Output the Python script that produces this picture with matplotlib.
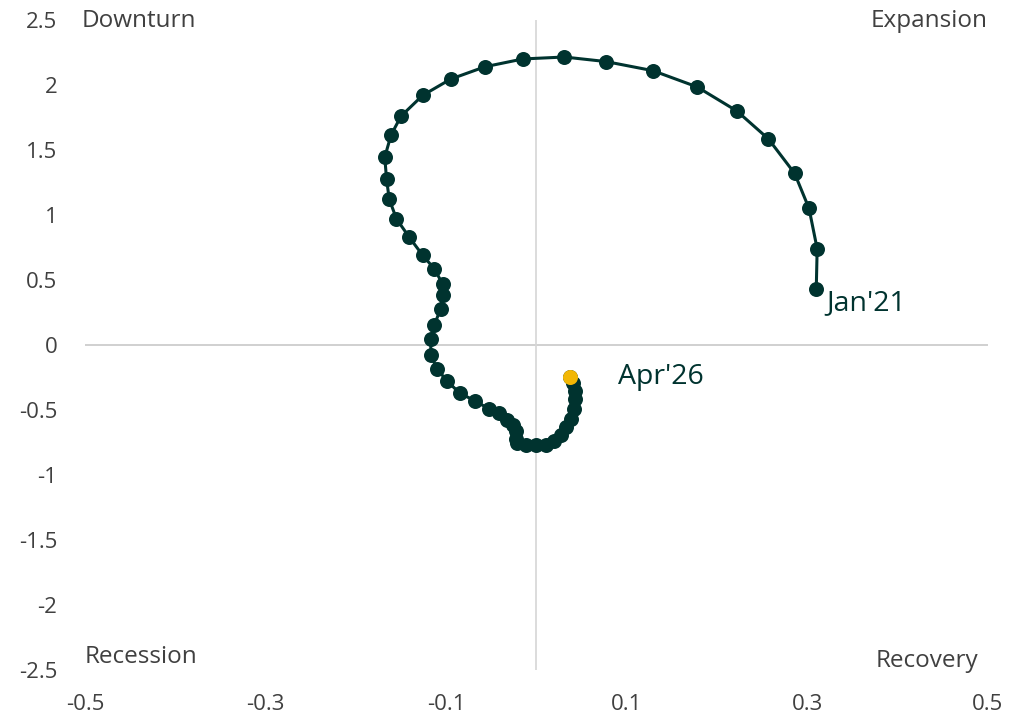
import matplotlib
matplotlib.use('Agg')
import matplotlib.pyplot as plt

plt.rcParams['font.family'] = ['Open Sans', 'DejaVu Sans']

# growth momentum (x) vs level (y), Jan'21 -> Apr'26
x_vals = [0.310, 0.311, 0.302, 0.286, 0.257, 0.222, 0.178, 0.129, 0.077, 0.031,
          -0.015, -0.057, -0.095, -0.126, -0.150, -0.161, -0.168, -0.166, -0.163, -0.155,
          -0.141, -0.126, -0.113, -0.104, -0.104, -0.106, -0.113, -0.117, -0.117, -0.110,
          -0.099, -0.085, -0.068, -0.053, -0.041, -0.033, -0.026, -0.023, -0.023, -0.021,
          -0.012, 0.000, 0.011, 0.020, 0.027, 0.033, 0.038, 0.042, 0.043, 0.043,
          0.040, 0.037]
y_vals = [0.43, 0.74, 1.05, 1.32, 1.585, 1.80, 1.985, 2.11, 2.18, 2.215,
          2.20, 2.14, 2.045, 1.92, 1.76, 1.615, 1.445, 1.275, 1.12, 0.97,
          0.83, 0.69, 0.585, 0.47, 0.385, 0.28, 0.155, 0.046, -0.077, -0.185,
          -0.277, -0.37, -0.43, -0.49, -0.52, -0.575, -0.615, -0.66, -0.72, -0.755,
          -0.77, -0.77, -0.77, -0.74, -0.69, -0.63, -0.57, -0.49, -0.415, -0.355,
          -0.29, -0.245]
first_label = "Jan'21"
last_label = "Apr'26"
x_ticks = [-0.5, -0.3, -0.1, 0.1, 0.3, 0.5]
y_ticks = [2.5, 2, 1.5, 1, 0.5, 0, -0.5, -1, -1.5, -2, -2.5]

dark = '#00332f'
gold = '#f2b705'
grey = '#404040'

fig = plt.figure(figsize=(10.1, 7.18), dpi=100)
ax = fig.add_axes([0.0842, 0.0669, 0.8938, 0.9053])

ax.axhline(0, color='#c8c8c8', lw=1.2, zorder=1)
ax.axvline(0, color='#d6d6d6', lw=1.2, zorder=1)

ax.plot(x_vals, y_vals, color=dark, lw=2.2, marker='o', markersize=10.8,
        markeredgewidth=0, zorder=3)
ax.plot(x_vals[-1], y_vals[-1], 'o', color=gold, markersize=10.8,
        markeredgewidth=0, zorder=4)

ax.annotate(first_label, (x_vals[0], y_vals[0]), xytext=(7, -10),
            textcoords='offset points', fontsize=20.5, color=dark, va='center', ha='left')
ax.annotate(last_label, (x_vals[-1], y_vals[-1]), xytext=(35, 0),
            textcoords='offset points', fontsize=20.5, color=dark, va='center', ha='left')

ax.text(-0.504, 2.49, 'Downturn', fontsize=17.5, color=grey, ha='left', va='center')
ax.text(0.5, 2.49, 'Expansion', fontsize=17.5, color=grey, ha='right', va='center')
ax.text(-0.501, -2.4, 'Recession', fontsize=17.5, color=grey, ha='left', va='center')
ax.text(0.489, -2.43, 'Recovery', fontsize=17.5, color=grey, ha='right', va='center')

ax.set_xlim(-0.5, 0.5)
ax.set_ylim(-2.5, 2.5)
ax.set_xticks(x_ticks)
ax.set_xticklabels([f'{v:g}' for v in x_ticks])
ax.set_yticks(y_ticks)
ax.set_yticklabels([f'{v:g}' for v in y_ticks])
ax.tick_params(length=0, labelsize=16, labelcolor=grey)
ax.tick_params(axis='x', pad=17)
ax.tick_params(axis='y', pad=20)
for s in ax.spines.values():
    s.set_visible(False)

fig.savefig('out.png', dpi=100)
